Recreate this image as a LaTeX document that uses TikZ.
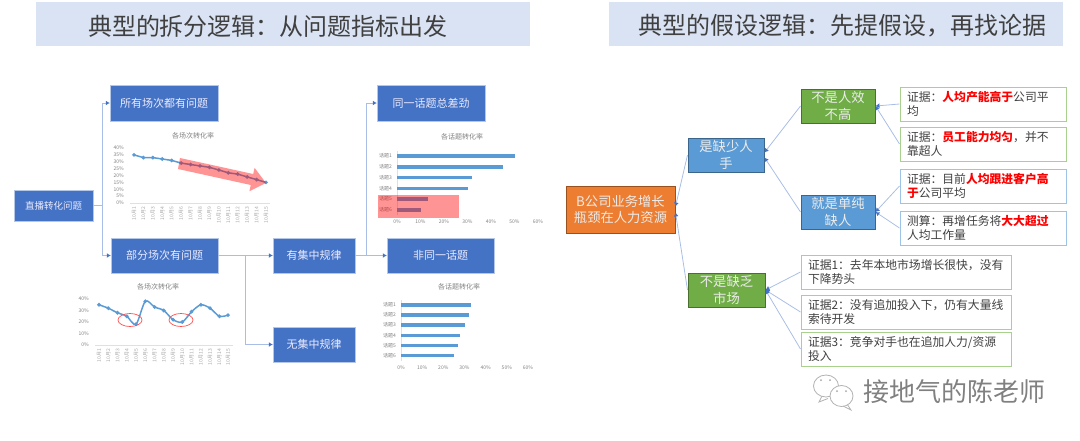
\documentclass[tikz,border=0pt]{standalone}
\usepackage{fontspec}
\setmainfont{Noto Sans CJK SC}
\usetikzlibrary{arrows.meta}
\definecolor{titlefill}{HTML}{DAE3F3}
\definecolor{deepblue}{HTML}{4472C4}
\definecolor{midblue}{HTML}{5B9BD5}
\definecolor{leafgreen}{HTML}{70AD47}
\definecolor{rootorange}{HTML}{ED7D31}
\definecolor{linkblue}{HTML}{A9BEE6}
\definecolor{proofgreen}{HTML}{A9D18E}
\definecolor{proofblue}{HTML}{9DC3E6}
\newcommand{\fs}[1]{\fontsize{#1}{#1}\selectfont}
\newcommand{\hot}[1]{{\bfseries\color{red}#1}}
\tikzset{
  titletext/.style={text=black!75, inner sep=0pt, font=\fs{24}},
  bluebox/.style={fill=deepblue, draw=deepblue!40, line width=0.5pt, text=white!92!blue, inner sep=0pt, font=\fs{11}},
  ideabox/.style={fill=#1, draw=#1!65!black, line width=1pt, text=white!92!black, inner sep=0pt, align=center, font=\fontsize{13.3}{16.5}\selectfont},
  proofbox/.style={draw=#1, fill=white, line width=1pt, text=black!75, inner xsep=7pt, inner ysep=0pt, align=left, font=\fontsize{11.8}{14.5}\selectfont},
  link/.style={linkblue, line width=0.8pt, -{Latex[length=4pt,width=4.5pt,fill=deepblue,line width=0pt]}},
  charttitle/.style={text=black!50, inner sep=0pt, font=\fs{7}},
  ticklab/.style={text=black!50, inner sep=0pt, anchor=east, font=\fs{5}},
  datelab/.style={text=black!35, inner sep=0pt, rotate=90, anchor=east, font=\fs{5}},
  trend/.style={midblue, line width=1.5pt, mark=*, mark size=1pt, mark options={midblue}},
  hbar/.style={midblue, line width=3.4pt},
  axisline/.style={black!12, line width=0.6pt},
  bubble/.style={draw=black!30, fill=white, line width=0.8pt}
}
\begin{document}
\begin{tikzpicture}[x=1pt,y=-1pt]
   \useasboundingbox (0,0) rectangle (1080,440);

   % titles
   \fill[titlefill] (36,2) rectangle (530,46);
   \fill[titlefill] (609,2) rectangle (1063,46);
   \node[titletext] (titleL) at (268,26) {典型的拆分逻辑：从问题指标出发};
   \node[titletext] (titleR) at (842,26) {典型的假设逻辑：先提假设，再找论据};

   % left tree
   \node[bluebox,minimum width=79,minimum height=31,font=\fs{9.5}] (live) at (53.5,205.5) {直播转化问题};
   \node[bluebox,minimum width=108,minimum height=36] (allS) at (164,103) {所有场次都有问题};
   \node[bluebox,minimum width=107,minimum height=35] (partS) at (164.5,255.5) {部分场次有问题};
   \node[bluebox,minimum width=82,minimum height=35] (rule) at (314,255.5) {有集中规律};
   \node[bluebox,minimum width=82,minimum height=35] (norule) at (314,344.5) {无集中规律};
   \node[bluebox,minimum width=108,minimum height=36] (sameT) at (431,103) {同一话题总差劲};
   \node[bluebox,minimum width=107,minimum height=35] (diffT) at (440.5,255.5) {非同一话题};
   \draw[link] (live.east) -- ++(9,0) |- (allS.west);
   \draw[link] (live.east) -- ++(9,0) |- (partS.west);
   \draw[link] (partS.east) -- (rule.west);
   \draw[link] (partS.east) -- ++(27,0) |- (norule.west);
   \draw[link] (rule.east) -- ++(11,0) |- (sameT.west);
   \draw[link] (rule.east) -- (diffT.west);

   % chart under allS
   \node[charttitle] (lineA) at (193,136) {各场次转化率};
   \draw[axisline] (130,203) -- (270,203);
   \node[ticklab] (aY40) at (124,148.0) {40\%};
   \node[ticklab] (aY35) at (124,154.9) {35\%};
   \node[ticklab] (aY30) at (124,161.8) {30\%};
   \node[ticklab] (aY25) at (124,168.6) {25\%};
   \node[ticklab] (aY20) at (124,175.5) {20\%};
   \node[ticklab] (aY15) at (124,182.4) {15\%};
   \node[ticklab] (aY10) at (124,189.2) {10\%};
   \node[ticklab] (aY05) at (124,196.1) {5\%};
   \node[ticklab] (aY00) at (124,203.0) {0\%};
   \node[datelab] (aX01) at (134.0,207) {10月1};
   \node[datelab] (aX02) at (143.4,207) {10月2};
   \node[datelab] (aX03) at (152.9,207) {10月3};
   \node[datelab] (aX04) at (162.3,207) {10月4};
   \node[datelab] (aX05) at (171.7,207) {10月5};
   \node[datelab] (aX06) at (181.2,207) {10月6};
   \node[datelab] (aX07) at (190.6,207) {10月7};
   \node[datelab] (aX08) at (200.0,207) {10月8};
   \node[datelab] (aX09) at (209.4,207) {10月9};
   \node[datelab] (aX10) at (218.9,207) {10月10};
   \node[datelab] (aX11) at (228.3,207) {10月11};
   \node[datelab] (aX12) at (237.7,207) {10月12};
   \node[datelab] (aX13) at (247.2,207) {10月13};
   \node[datelab] (aX14) at (256.6,207) {10月14};
   \node[datelab] (aX15) at (266.0,207) {10月15};
   \draw[trend] plot coordinates {(134,154.9) (143.4,157.6) (152.9,157.6) (162.3,159) (171.7,160.4) (181.2,163.1) (190.6,164.5) (200,165.9) (209.4,167.3) (218.9,170) (228.3,172.8) (237.7,174.1) (247.2,176.9) (256.6,179.6) (266,182.4)};
   \fill[red,opacity=0.42] (180,158) -- (253.2,174) -- (254.6,167.8) -- (266,183) -- (249.4,191.2) -- (250.8,185) -- (178,169) -- cycle;

   % chart under partS
   \node[charttitle] (lineB) at (158,287) {各场次转化率};
   \draw[axisline] (95,345) -- (233,345);
   \node[ticklab] (bY40) at (89,299.0) {40\%};
   \node[ticklab] (bY30) at (89,310.5) {30\%};
   \node[ticklab] (bY20) at (89,322.0) {20\%};
   \node[ticklab] (bY10) at (89,333.5) {10\%};
   \node[ticklab] (bY00) at (89,345.0) {0\%};
   \node[datelab] (bX01) at (99.0,349) {10月1};
   \node[datelab] (bX02) at (108.3,349) {10月2};
   \node[datelab] (bX03) at (117.5,349) {10月3};
   \node[datelab] (bX04) at (126.8,349) {10月4};
   \node[datelab] (bX05) at (136.0,349) {10月5};
   \node[datelab] (bX06) at (145.3,349) {10月6};
   \node[datelab] (bX07) at (154.6,349) {10月7};
   \node[datelab] (bX08) at (163.8,349) {10月8};
   \node[datelab] (bX09) at (173.1,349) {10月9};
   \node[datelab] (bX10) at (182.3,349) {10月10};
   \node[datelab] (bX11) at (191.6,349) {10月11};
   \node[datelab] (bX12) at (200.9,349) {10月12};
   \node[datelab] (bX13) at (210.1,349) {10月13};
   \node[datelab] (bX14) at (219.4,349) {10月14};
   \node[datelab] (bX15) at (228.0,349) {10月15};
   \draw[trend] plot[smooth,tension=0.5] coordinates {(99,304.8) (108.3,308.2) (117.5,312.8) (126.8,316.3) (136,324.3) (145.3,301.3) (154.6,307) (163.8,310.5) (173.1,319.7) (182.3,322) (191.6,311.7) (200.9,304.8) (210.1,308.2) (219.4,316.3) (228,315.1)};
   \draw[red!70,line width=0.7pt] (130,320) ellipse (12 and 6.5);
   \draw[red!70,line width=0.7pt] (181,320) ellipse (12 and 6.5);

   % chart under sameT
   \node[charttitle] (barA) at (462,137) {各话题转化率};
   \draw[axisline] (397,151) -- (397,215);
   \draw[hbar] (397,156) -- (514.5,156);
   \draw[hbar] (397,166.8) -- (502.8,166.8);
   \draw[hbar] (397,177.5) -- (472.2,177.5);
   \draw[hbar] (397,188.2) -- (467.5,188.2);
   \draw[hbar] (397,199) -- (427.6,199);
   \draw[hbar] (397,210) -- (420.5,210);
   \node[ticklab] (aT1) at (392,156) {话题1};
   \node[ticklab] (aT2) at (392,166.8) {话题2};
   \node[ticklab] (aT3) at (392,177.5) {话题3};
   \node[ticklab] (aT4) at (392,188.2) {话题4};
   \node[ticklab] (aT5) at (392,199) {话题5};
   \node[ticklab] (aT6) at (392,210) {话题6};
   \node[ticklab,anchor=center] (aP0) at (397,222) {0\%};
   \node[ticklab,anchor=center] (aP1) at (420.5,222) {10\%};
   \node[ticklab,anchor=center] (aP2) at (444,222) {20\%};
   \node[ticklab,anchor=center] (aP3) at (467.5,222) {30\%};
   \node[ticklab,anchor=center] (aP4) at (491,222) {40\%};
   \node[ticklab,anchor=center] (aP5) at (514.5,222) {50\%};
   \node[ticklab,anchor=center] (aP6) at (538,222) {60\%};
   \fill[red,opacity=0.42] (378,195) rectangle (459,218);

   % chart under diffT
   \node[charttitle] (barB) at (459,287) {各话题转化率};
   \draw[axisline] (401,300) -- (401,361);
   \draw[hbar] (401,305) -- (471,305);
   \draw[hbar] (401,315) -- (468.8,315);
   \draw[hbar] (401,325) -- (464.6,325);
   \draw[hbar] (401,335.4) -- (460.4,335.4);
   \draw[hbar] (401,345.5) -- (458.2,345.5);
   \draw[hbar] (401,355.6) -- (454,355.6);
   \node[ticklab] (bT1) at (396,305) {话题1};
   \node[ticklab] (bT2) at (396,315) {话题2};
   \node[ticklab] (bT3) at (396,325) {话题3};
   \node[ticklab] (bT4) at (396,335.4) {话题4};
   \node[ticklab] (bT5) at (396,345.5) {话题5};
   \node[ticklab] (bT6) at (396,355.6) {话题6};
   \node[ticklab,anchor=center] (bP0) at (401,368) {0\%};
   \node[ticklab,anchor=center] (bP1) at (422.2,368) {10\%};
   \node[ticklab,anchor=center] (bP2) at (443.3,368) {20\%};
   \node[ticklab,anchor=center] (bP3) at (464.5,368) {30\%};
   \node[ticklab,anchor=center] (bP4) at (485.7,368) {40\%};
   \node[ticklab,anchor=center] (bP5) at (506.8,368) {50\%};
   \node[ticklab,anchor=center] (bP6) at (528,368) {60\%};

   % right tree
   \node[ideabox=rootorange,minimum width=109,minimum height=47] (root) at (620.5,209.5) {B公司业务增长\\瓶颈在人力资源};
   \node[ideabox=midblue,minimum width=76,minimum height=34] (lack) at (726,155) {是缺少人\\手};
   \node[ideabox=leafgreen,minimum width=77,minimum height=34] (nomarket) at (726.5,290) {不是缺乏\\市场};
   \node[ideabox=leafgreen,minimum width=74,minimum height=34] (noeff) at (838,106) {不是人效\\不高};
   \node[ideabox=midblue,minimum width=74,minimum height=34] (short) at (838,212) {就是单纯\\缺人};
   \node[proofbox=proofgreen,text width=152,minimum height=34] (pfA) at (983,104) {证据：\hot{人均产能高于}公司平\\均};
   \node[proofbox=proofgreen,text width=152,minimum height=34] (pfB) at (983,144) {证据：\hot{员工能力均匀}，并不\\靠超人};
   \node[proofbox=proofblue,text width=152,minimum height=34] (pfC) at (983,186) {证据：目前\hot{人均跟进客户高}\\\hot{于}公司平均};
   \node[proofbox=proofblue,text width=152,minimum height=34] (pfD) at (983,228) {测算：再增任务将\hot{大大超过}\\人均工作量};
   \node[proofbox=proofgreen,text width=196,minimum height=34] (pfE) at (906,272) {证据1：去年本地市场增长很快，没有\\下降势头};
   \node[proofbox=proofgreen,text width=196,minimum height=34] (pfF) at (906,312) {证据2：没有追加投入下，仍有大量线\\索待开发};
   \node[proofbox=proofgreen,text width=196,minimum height=34] (pfG) at (906,349) {证据3：竞争对手也在追加人力/资源\\投入};
   \draw[link] (lack.west) -- ([yshift=3pt]root.east);
   \draw[link] (nomarket.west) -- ([yshift=-3pt]root.east);
   \draw[link] (noeff.west) -- ([yshift=2.5pt]lack.east);
   \draw[link] (short.west) -- ([yshift=-2.5pt]lack.east);
   \draw[link] (pfA.west) -- (noeff.east);
   \draw[link] (pfB.west) -- (noeff.east);
   \draw[link] (pfC.west) -- (short.east);
   \draw[link] (pfD.west) -- (short.east);
   \draw[link] (pfE.west) -- (nomarket.east);
   \draw[link] (pfF.west) -- (nomarket.east);
   \draw[link] (pfG.west) -- (nomarket.east);

   % watermark
   \draw[bubble] (822,396) -- (819,402) -- (828,398.5);
   \draw[bubble] (826,386) ellipse (12.5 and 11);
   \draw[bubble] (847,404) -- (851,410) -- (843,406);
   \draw[bubble] (841.5,396) ellipse (11.5 and 10.5);
   \fill[black!35] (821,380) circle (1);
   \fill[black!35] (830,380) circle (1);
   \fill[black!35] (837,391) circle (1);
   \fill[black!35] (846,391) circle (1);
   \node[text=black!50,inner sep=0pt,font=\fs{26}] (mark) at (954,392) {接地气的陈老师};
\end{tikzpicture}
\end{document}
